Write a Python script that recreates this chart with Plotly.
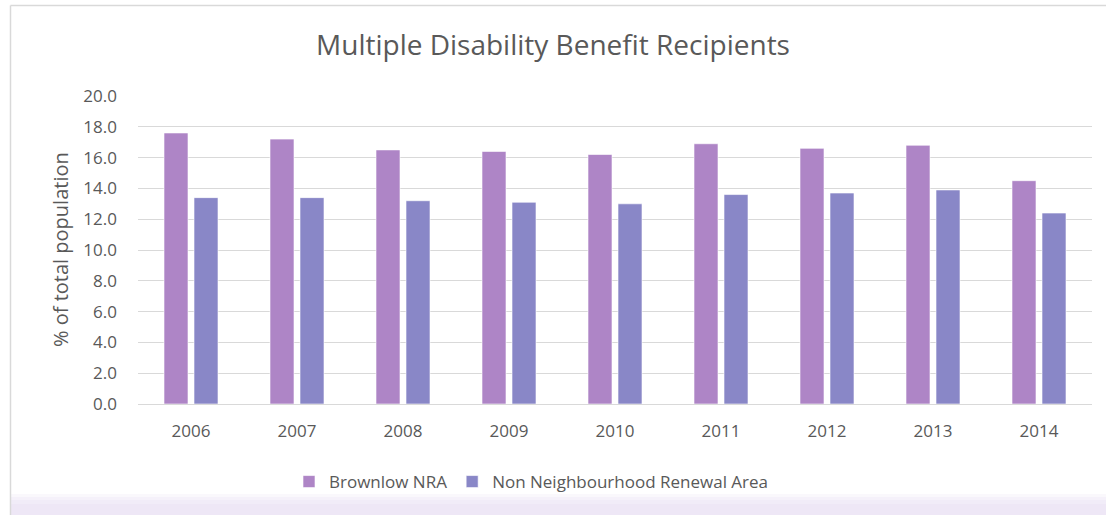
import plotly.graph_objects as go

years = ["2006", "2007", "2008", "2009", "2010", "2011", "2012", "2013", "2014"]
brownlow = [17.6, 17.2, 16.5, 16.4, 16.2, 16.9, 16.6, 16.8, 14.5]
non_nra = [13.4, 13.4, 13.2, 13.1, 13.0, 13.6, 13.7, 13.9, 12.4]
y_ticks = [0, 2, 4, 6, 8, 10, 12, 14, 16, 18, 20]

W, H = 1106, 515
ML, MR, MT, MB = 138, 14, 96, 111
PW, PH = W - ML - MR, H - MT - MB

def px(x):
    return (x - ML) / PW

def py(y):
    return (H - MB - y) / PH

FONT = "Open Sans"
GREY = "#595959"

fig = go.Figure()
fig.add_trace(go.Bar(x=years, y=brownlow, name="Brownlow NRA",
                     marker=dict(color="#AE85C6", line=dict(color="rgba(255,255,255,0.6)", width=1))))
fig.add_trace(go.Bar(x=years, y=non_nra, name="Non Neighbourhood Renewal Area",
                     marker=dict(color="#8987C7", line=dict(color="rgba(255,255,255,0.6)", width=1))))

shapes = []
band = [(494, 515, "rgba(236,226,244,0.25)"), (497, 515, "rgba(236,226,244,0.3)"),
        (500, 515, "rgba(236,226,244,0.35)"), (504, 515, "rgba(236,226,244,0.45)")]
for y0, y1, c in band:
    shapes.append(dict(type="rect", xref="paper", yref="paper", x0=px(10), x1=px(W),
                       y0=py(y1), y1=py(y0), fillcolor=c, line=dict(width=0), layer="below"))
shapes.append(dict(type="line", xref="paper", yref="paper", x0=px(10.5), x1=px(10.5),
                   y0=py(515), y1=py(5.5), line=dict(color="#D9D9D9", width=1.5)))
shapes.append(dict(type="line", xref="paper", yref="paper", x0=px(10.5), x1=px(W),
                   y0=py(5.5), y1=py(5.5), line=dict(color="#D9D9D9", width=1.5)))

fig.update_layout(
    width=W, height=H,
    margin=dict(l=ML, r=MR, t=MT, b=MB, pad=0),
    paper_bgcolor="white", plot_bgcolor="white",
    barmode="group", bargap=0.434, bargroupgap=0.2,
    font=dict(family=FONT, color=GREY, size=17),
    title=dict(text="Multiple Disability Benefit Recipients", x=0.5, xanchor="center",
               y=1 - 45 / H, yanchor="middle", xref="container", yref="container",
               font=dict(family=FONT, size=28, color=GREY)),
    xaxis=dict(showgrid=False, showline=True, linecolor="#D9D9D9", linewidth=1,
               ticks="", tickfont=dict(size=17, color=GREY), ticklabelstandoff=12),
    yaxis=dict(range=[0, 20], tickvals=y_ticks, ticktext=[f"{v:.1f}" for v in y_ticks],
               showgrid=True, gridcolor="#D9D9D9", gridwidth=1, zeroline=False,
               showline=False, ticks="", tickfont=dict(size=17, color=GREY),
               ticklabelstandoff=20),
    legend=dict(orientation="h", x=px(289), xanchor="left", y=py(482), yanchor="middle",
                font=dict(size=17, color=GREY), bgcolor="rgba(0,0,0,0)"),
    annotations=[dict(text="% of total population", xref="paper", yref="paper",
                      x=px(60), y=0.5, textangle=-90, showarrow=False,
                      xanchor="center", yanchor="middle",
                      font=dict(family=FONT, size=20, color=GREY))],
    shapes=shapes,
    showlegend=True,
)

fig.write_html("out.html", config={"displayModeBar": False},
               post_script="document.body.style.margin='0';document.body.style.overflow='hidden';")
